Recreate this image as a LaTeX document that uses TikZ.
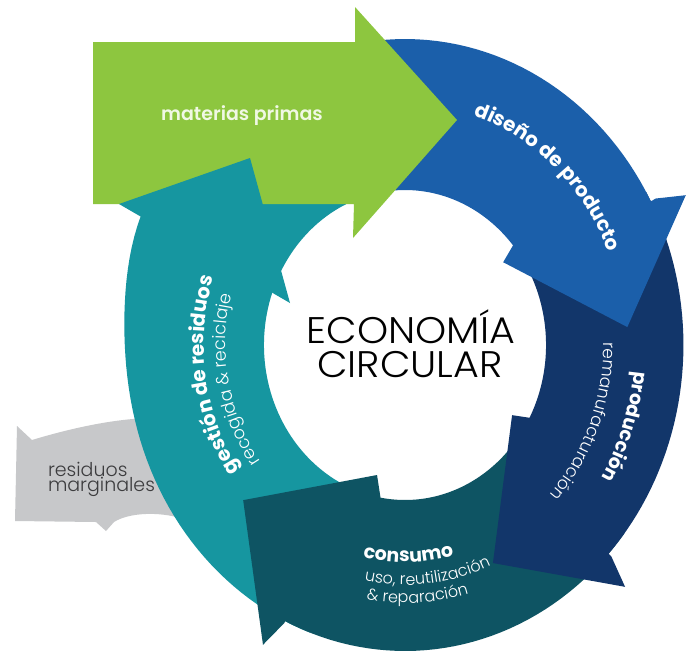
\documentclass[tikz,border=0pt]{standalone}
\usepackage{fontspec}
\setmainfont{Poppins}
\IfFontExistsTF{Poppins Light}
  {\newfontfamily\plight{Poppins Light}\newfontfamily\pwide{Poppins Light}[FakeStretch=1.07]}
  {\newfontfamily\plight{Poppins}\newfontfamily\pwide{Poppins}[FakeStretch=1.07]}
\IfFontExistsTF{Poppins SemiBold}
  {\newfontfamily\psemi{Poppins SemiBold}}
  {\newcommand\psemi{\bfseries}}
\usetikzlibrary{decorations.text}
\definecolor{cgreen}{RGB}{141,198,63}
\definecolor{cblue}{RGB}{27,95,170}
\definecolor{cnavy}{RGB}{18,54,106}
\definecolor{cdkteal}{RGB}{14,84,99}
\definecolor{cteal}{RGB}{22,150,160}
\definecolor{cgray}{RGB}{199,200,202}
\definecolor{cgtext}{RGB}{60,60,62}
\definecolor{cmat}{RGB}{240,248,228}
\newcommand\mybold{\fontsize{19}{19}\selectfont\bfseries}
\newcommand\mybig{\fontsize{20}{20}\selectfont\bfseries}
\newcommand\mylight{\fontsize{16}{16}\selectfont\plight}
\tikzset{
  ringfill/.style={fill=#1, draw=none},
  label/.style={inner sep=0pt, outer sep=0pt},
}
\begin{document}
\begin{tikzpicture}[x=1pt,y=-1pt]
\useasboundingbox (0,0) rectangle (686,657);
\fill[white] (0,0) rectangle (686,657);
% grey outflow arrow
\fill[cgray] (17,426) -- (32,440) .. controls (65,430) and (110,419) .. (150,418) -- (220,418) -- (220,530) -- (180,518) .. controls (160,512) and (130,512) .. (114,522) -- (106,531) -- (96,522) -- (15,521) -- cycle;
\begin{scope}[shift={(405,345)},x=0.91pt,y=-1pt]
  % teal body (gestion de residuos)
  \path[ringfill=cteal] plot[domain=110:248,samples=70,variable=\t] (\t:155)
     -- plot[domain=248:110,samples=70,variable=\t] (\t:{306+12*exp(-((\t-207)/20)*((\t-207)/20))}) -- cycle;
  % dark teal (consumo)
  \path[ringfill=cdkteal] plot[domain=38:100,samples=40,variable=\t] (\t:155)
     -- (103.3:133.6) -- (138.9:236) -- (117.5:338) -- (115.5:308)
     -- plot[domain=115.5:38,samples=40,variable=\t] (\t:306) -- cycle;
  % navy (produccion)
  \path[ringfill=cnavy] plot[domain=-30:28,samples=40,variable=\t] (\t:155)
     -- (30.8:137) -- (66.1:238.5) -- (45:342) -- (43:310)
     -- plot[domain=43:-30,samples=40,variable=\t] (\t:306) -- cycle;
  % blue (diseno)
  \path[ringfill=cblue] plot[domain=-108:-40,samples=40,variable=\t] (\t:155)
     -- (-37.5:136) -- (-4.2:245) -- (-25.9:343) -- (-28:312)
     -- plot[domain=-28:-108,samples=40,variable=\t] (\t:306) -- cycle;
\end{scope}
% green input arrow
\path[ringfill=cgreen] (93,42) -- (355,42) -- (355,7) -- (457,120) -- (353,238) -- (354,204) -- (93,204) -- cycle;
% teal arrow head over the green
\path[ringfill=cteal] (119,204) -- (250,158) -- (290,303) -- cycle;
% ring texts
\begin{scope}[shift={(405,345)},x=0.91pt,y=-1pt]
  \path[decorate,decoration={text along path,text align=center,text color=white,
     text={|\mybig|diseño de producto}}] plot[domain=-93:-3,samples=90,variable=\t] (\t:242);
  \path[decorate,decoration={text along path,text align=center,text color=white,
     text={|\mybold|producción}}] plot[domain=-25:64,samples=90,variable=\t] (\t:253);
  \path[decorate,decoration={text along path,text align=center,text color=white,
     text={|\fontsize{17}{17}\selectfont\plight|remanufacturación}}] plot[domain=-23:67,samples=90,variable=\t] (\t:218);
  \path[decorate,decoration={text along path,text align=center,text color=white,
     text={|\mybig|gestión de residuos}}] plot[domain=126:217,samples=90,variable=\t] (\t:221);
  \path[decorate,decoration={text along path,text align=center,text color=white,
     text={|\fontsize{17.5}{17.5}\selectfont\plight|recogida {\&} reciclaje}}] plot[domain=124:214,samples=90,variable=\t] (\t:197);
  \path[decorate,decoration={text along path,text align=center,text color=white,
     text={|\mybold|consumo}}] plot[domain=134:44,samples=90,variable=\t] (\t:217);
  \path[decorate,decoration={text along path,text align=center,text color=white,
     text={|\mylight|uso, reutilización}}] plot[domain=129:39,samples=90,variable=\t] (\t:240);
  \path[decorate,decoration={text along path,text align=center,text color=white,
     text={|\mylight|{\&} reparación}}] plot[domain=132:42,samples=90,variable=\t] (\t:258);
\end{scope}
% centre and side labels
\node[label, font=\pwide\fontsize{37}{37}\selectfont, anchor=base] (eco) at (411,343) {ECONOMÍA};
\node[label, font=\pwide\fontsize{37}{37}\selectfont, anchor=base] (circ) at (410,377) {CIRCULAR};
\node[label, font=\psemi\fontsize{19}{19}\selectfont, text=cmat, anchor=base] (mp) at (242,120) {materias primas};
\node[label, font=\plight\fontsize{19}{19}\selectfont, text=cgtext, anchor=base west] (rm1) at (48,476) {residuos};
\node[label, font=\plight\fontsize{19}{19}\selectfont, text=cgtext, anchor=base west] (rm2) at (48,491) {marginales};
\end{tikzpicture}
\end{document}
